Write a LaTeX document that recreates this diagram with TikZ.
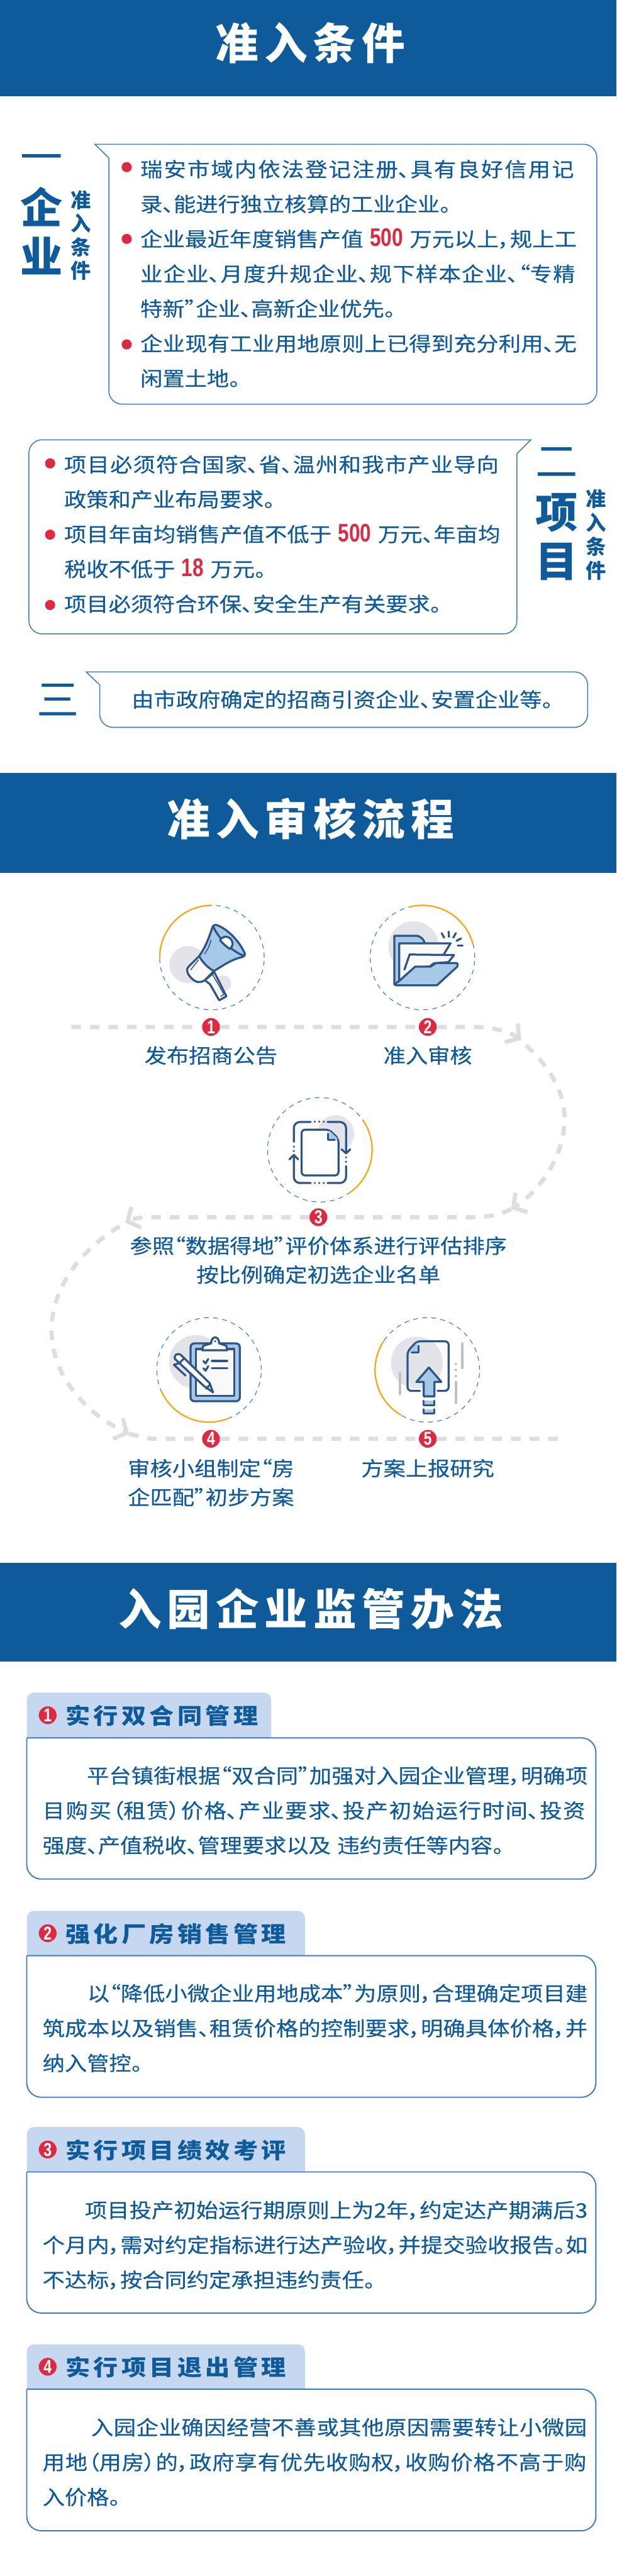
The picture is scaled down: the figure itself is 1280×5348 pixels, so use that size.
\documentclass[tikz,border=0pt]{standalone}
\usepackage{fontspec}
\usetikzlibrary{arrows.meta}
\setmainfont[FakeStretch=1.11,FakeBold=0.4,RawFeature={+palt}]{Noto Sans CJK SC}
\newfontfamily\titlefont[LetterSpace=13,RawFeature={+palt}]{Noto Sans CJK SC}
\newfontfamily\bigfont[RawFeature={+palt}]{Noto Sans CJK SC}
\newfontfamily\tabfont[FakeStretch=1.12,LetterSpace=15,RawFeature={+palt}]{Noto Sans CJK SC}
\newfontfamily\numfont[FakeStretch=0.78]{Liberation Sans}
\XeTeXlinebreaklocale "zh"
\XeTeXlinebreakskip=0pt plus 20pt minus 3pt
\tolerance=10000
\definecolor{headblue}{HTML}{0F5A9B}
\definecolor{boxblue}{HTML}{3A7CC2}
\definecolor{tabblue}{HTML}{C5D8F0}
\definecolor{markred}{HTML}{DC2A42}
\definecolor{ringorange}{HTML}{F7A91E}
\definecolor{flowgrey}{HTML}{DEDEDE}
\definecolor{iconline}{HTML}{2F5587}
\definecolor{iconfill}{HTML}{A5C9E6}
\definecolor{iconblob}{HTML}{E3E4E9}
\definecolor{iconpaper}{HTML}{F9F9FA}
\definecolor{icongrey}{HTML}{C0C0C0}
\newcommand{\bodysize}{\fontsize{23.6}{41.2}\selectfont}
\newcommand{\rednum}[1]{{\numfont\bfseries\fontsize{30}{41.2}\selectfont\color{markred}#1}}
\newcommand{\jline}[1]{\parfillskip=0pt #1\par}
\newcommand{\lastline}[1]{\parfillskip=0pt plus 1fil #1\par}
\newcommand{\ringarc}[3]{\draw[ringarcline] (#1.#2) arc[start angle=#2,end angle=#3,radius=2.17cm];}
\newcommand{\tabblock}[5]{%
  \fill[tabblue,rounded corners=3mm] (55.5,#3) -- (55.5,#2) -- (#1,#2) -- (#1,#3);
  \draw[blockline,rounded corners=6mm] (55.5,#3) -- (1237,#3) -- (1237,#4) -- (55.5,#4) -- (55.5,#3);
  \node[badge] (#5) at (99,{(#2+#3)/2}) {#5};
}
\tikzset{
  bodytext/.style={anchor=base west,inner sep=0pt,text=headblue,font=\bodysize},
  linelabel/.style={anchor=base,inner sep=0pt,text=headblue,font=\bodysize},
  title/.style={anchor=base,inner sep=0pt,text=white,font=\titlefont\bfseries\fontsize{51}{60}\selectfont},
  biglabel/.style={anchor=base,inner sep=0pt,text=headblue,font=\bigfont\bfseries\fontsize{50}{60}\selectfont},
  numlabel/.style={anchor=base,inner sep=0pt,text=headblue,font=\bigfont\fontsize{50}{60}\selectfont},
  sidelabel/.style={anchor=base,inner sep=0pt,text=headblue,font=\bigfont\bfseries\fontsize{24}{30}\selectfont},
  tabtext/.style={anchor=base west,inner sep=0pt,text=headblue,font=\tabfont\bfseries\fontsize{26}{30}\selectfont},
  bulletdot/.style={circle,fill=markred,minimum size=4.2mm,inner sep=0pt},
  badge/.style={circle,fill=markred,text=white,minimum size=7.4mm,inner sep=0pt,font=\numfont\bfseries\fontsize{22}{24}\selectfont},
  ring/.style={circle,draw=boxblue,line width=0.3mm,dash pattern=on 2mm off 1.8mm,minimum size=4.34cm,inner sep=0pt,outer sep=0pt},
  ringarcline/.style={ringorange,line width=0.6mm},
  boxline/.style={boxblue,line width=0.4mm},
  blockline/.style={boxblue,line width=0.5mm},
  flow/.style={flowgrey,line width=1.75mm,dash pattern=on 4mm off 3.7mm},
  flowarrow/.style={flow,-{Straight Barb[length=4mm,width=9.5mm,line width=1.7mm]}},
  iconscope/.style={x=0.006667cm,y=-0.006667cm,line join=round,line cap=round},
  icon/.style={iconline,line width=0.85mm},
  iconthin/.style={iconline,line width=0.4mm}
}
\begin{document}
\begin{tikzpicture}[x=0.02cm,y=-0.02cm]
  \useasboundingbox (0,0) rectangle (1280,5348);
  \fill[headblue] (0,0) rectangle (1280,200);
  \fill[headblue] (0,1605) rectangle (1280,1812);
  \fill[headblue] (0,3244) rectangle (1280,3450);
  \node[title] (title1) at (644,124) {准入条件};
  \node[title] (title2) at (645,1735) {准入审核流程};
  \node[title] (title3) at (645,3374) {入园企业监管办法};

  \draw[boxline] (197,299.5) -- (226,328) [rounded corners=5.5mm] -- (226,839) -- (1239,839) -- (1239,299.5) [sharp corners] -- cycle;
  \node[numlabel] (one) at (87,358) {一};
  \node[biglabel] (qi) at (87,464) {企};
  \node[biglabel] (ye) at (87,566) {业};
  \foreach \ch [count=\i] in {准,入,条,件}
    \node[sidelabel] (sidea\i) at (168,{382+49*\i}) {\ch};
  \node[bulletdot] (dota1) at (263,347) {};
  \node[bulletdot] (dota2) at (263,496) {};
  \node[bulletdot] (dota3) at (263,715) {};
  \node[bodytext,text width=18.14cm] (texta) at (291,367) {%
    \jline{瑞安市域内依法登记注册、具有良好信用记}
    \lastline{录、能进行独立核算的工业企业。}
    \jline{企业最近年度销售产值 \rednum{500} 万元以上，规上工}
    \jline{业企业、月度升规企业、规下样本企业、“专精}
    \lastline{特新”企业、高新企业优先。}
    \jline{企业现有工业用地原则上已得到充分利用、无}
    \lastline{闲置土地。}};

  \draw[boxline] (1102,913) -- (1073,942) [rounded corners=5.5mm] -- (1073,1316) -- (60,1316) -- (60,913) [sharp corners] -- cycle;
  \node[numlabel] (two) at (1156,990) {二};
  \node[biglabel] (xiang) at (1156,1096) {项};
  \node[biglabel] (mu) at (1156,1198) {目};
  \foreach \ch [count=\i] in {准,入,条,件}
    \node[sidelabel] (sideb\i) at (1237,{1002+49.5*\i}) {\ch};
  \node[bulletdot] (dotb1) at (104,962) {};
  \node[bulletdot] (dotb2) at (104,1110) {};
  \node[bulletdot] (dotb3) at (104,1256) {};
  \node[bodytext,text width=18.12cm] (textb) at (133,980) {%
    \jline{项目必须符合国家、省、温州和我市产业导向}
    \lastline{政策和产业布局要求。}
    \jline{项目年亩均销售产值不低于 \rednum{500} 万元、年亩均}
    \lastline{税收不低于 \rednum{18} 万元。}
    \lastline{项目必须符合环保、安全生产有关要求。}};

  \draw[boxline] (179,1395) -- (207,1422) [rounded corners=5.5mm] -- (207,1510) -- (1220,1510) -- (1220,1395) [sharp corners] -- cycle;
  \node[numlabel] (three) at (120,1485) {三};
  \node[bodytext,text width=18cm] (textc) at (273,1468) {\lastline{由市政府确定的招商引资企业、安置企业等。}};

  \node[ring] (c1) at (440,1988) {};
  \node[ring] (c2) at (877,1988) {};
  \node[ring] (c3) at (664,2387) {};
  \node[ring] (c4) at (434,2844) {};
  \node[ring] (c5) at (887,2844) {};
  \ringarc{c1}{90}{180}
  \ringarc{c2}{105}{15}
  \ringarc{c3}{35}{-56}
  \ringarc{c4}{203}{292}
  \ringarc{c5}{146}{240}

  \node[badge] (n1) at (438,2132) {1};
  \node[badge] (n2) at (888,2132) {2};
  \node[badge] (n3) at (661,2527) {3};
  \node[badge] (n4) at (438,2987) {4};
  \node[badge] (n5) at (888,2987) {5};
  \coordinate (flowa) at (148,2132);
  \coordinate (benda) at (980,2132);
  \coordinate (tipa) at (1082,2159);
  \coordinate (tailb) at (1092,2170);
  \coordinate (tipb) at (1061,2510);
  \coordinate (bendc) at (980,2527);
  \coordinate (bendd) at (306,2527);
  \coordinate (tipc) at (260,2538);
  \coordinate (taild) at (248,2546);
  \coordinate (tipd) at (268,2977);
  \coordinate (bende) at (314,2987);
  \coordinate (flowe) at (1163,2987);
  \draw[flowarrow] (flowa) -- (n1) -- (n2) -- (benda) .. controls (1020,2132) and (1055,2140) .. (tipa);
  \draw[flowarrow] (tailb) .. controls (1140,2215) and (1172,2265) .. (1172,2323) .. controls (1172,2395) and (1125,2470) .. (tipb);
  \draw[flowarrow] (tipb) .. controls (1040,2522) and (1010,2527) .. (bendc) -- (n3) -- (bendd) .. controls (290,2527) and (275,2531) .. (tipc);
  \draw[flowarrow] (taild) .. controls (160,2600) and (107,2680) .. (107,2762) .. controls (107,2850) and (170,2930) .. (tipd);
  \draw[flow] (tipd) .. controls (290,2982) .. (bende) -- (n4) -- (n5) -- (flowe);

  \node[linelabel] (la) at (438,2207) {发布招商公告};
  \node[linelabel] (lb) at (888,2207) {准入审核};
  \node[linelabel] (lc) at (661,2602) {参照“数据得地”评价体系进行评估排序};
  \node[linelabel] (ld) at (661,2662) {按比例确定初选企业名单};
  \node[linelabel] (le) at (438,3064) {审核小组制定“房};
  \node[linelabel] (lf) at (438,3124) {企匹配”初步方案};
  \node[linelabel] (lg) at (888,3064) {方案上报研究};

  \begin{scope}[shift={(330,1880)},iconscope]
    \fill[iconblob] (180,367) circle (115);
    \fill[iconblob] (400,485) circle (50);
    \draw[icon,fill=iconpaper] (285,465) -- (318,490) -- (375,590) -- (420,565) -- (345,415) -- cycle;
    \draw[iconthin] (335,432) -- (405,553) -- (385,565);
    \draw[icon,fill=iconpaper] (250,315) -- (183,382) .. controls (165,405) and (180,430) .. (205,455) .. controls (235,485) and (265,480) .. (285,465) -- (342,408) -- cycle;
    \draw[icon,fill=iconfill] (250,315) .. controls (290,260) and (315,190) .. (333,135) .. controls (340,115) and (360,118) .. (380,130) .. controls (450,165) and (510,240) .. (535,300) .. controls (535,315) and (525,320) .. (515,322) .. controls (450,335) and (390,380) .. (342,408) .. controls (310,390) and (275,360) .. (250,315) -- cycle;
    \draw[icon] (340,135) .. controls (365,190) and (430,270) .. (525,312);
    \draw[icon,fill=white] (380,215) .. controls (400,185) and (445,185) .. (458,230) .. controls (462,250) and (450,262) .. (440,270) .. controls (420,255) and (395,235) .. (380,215) -- cycle;
    \draw[iconthin] (325,215) .. controls (315,250) and (300,280) .. (285,300);
    \draw[iconthin] (245,340) -- (198,400);
  \end{scope}

  \begin{scope}[shift={(767,1880)},iconscope]
    \fill[iconblob] (275,255) circle (157);
    \draw[icon,fill=iconfill] (155,188) -- (290,188) .. controls (320,188) and (340,215) .. (345,235) -- (345,400) -- (185,480) -- (155,490) -- cycle;
    \draw[icon,fill=iconpaper] (185,235) -- (505,235) -- (465,300) -- (465,360) -- (285,385) -- (185,470) -- cycle;
    \draw[icon,fill=iconpaper] (218,398) -- (250,305) -- (527,308) -- (492,352) -- (400,360) -- (375,380) -- (285,385) -- (218,440);
    \draw[icon,fill=iconfill] (185,470) -- (285,380) -- (380,380) -- (415,358) -- (540,358) .. controls (552,358) and (552,375) .. (545,382) -- (420,497) -- (165,497) -- (155,490) -- cycle;
    \draw[icon] (450,172) -- (465,200);
    \draw[icon] (493,162) -- (495,195);
    \draw[icon] (538,172) -- (522,200);
    \draw[icon] (570,205) -- (542,220);
    \draw[icon] (580,248) -- (550,248);
  \end{scope}

  \begin{scope}[shift={(555,2277)},iconscope]
    \fill[iconblob] (425,230) circle (115);
    \draw[icon,fill=white,rounded corners=1.5mm] (213,205) -- (385,205) -- (443,262) -- (443,490) -- (213,490) -- cycle;
    \fill[iconfill] (385,210) -- (440,262) -- (378,268) -- cycle;
    \draw[icon] (378,230) -- (378,268) -- (420,268);
    \draw[icon,rounded corners=2.5mm] (270,157) -- (165,157) -- (165,280);
    \draw[icon,rounded corners=2.5mm] (270,537) -- (165,537) -- (165,365);
    \draw[icon] (138,390) -- (165,362) -- (192,390);
    \draw[icon,rounded corners=2.5mm] (375,537) -- (490,537) -- (490,432);
    \draw[icon,rounded corners=2.5mm] (375,157) -- (490,157) -- (490,350);
    \draw[icon] (462,327) -- (490,352) -- (517,327);
    \foreach \px in {295,323,351} {
      \fill[iconline] (\px,155) circle (7);
      \fill[iconline] (\px,537) circle (7);
    }
    \foreach \py in {310,338} \fill[iconline] (165,\py) circle (7);
    \foreach \py in {378,405} \fill[iconline] (490,\py) circle (7);
  \end{scope}

  \begin{scope}[shift={(325,2734)},iconscope]
    \fill[iconblob] (245,280) circle (167);
    \draw[icon,fill=iconfill,rounded corners=1.5mm] (212,165) rectangle (518,525);
    \draw[icon,fill=iconpaper] (245,200) rectangle (483,492);
    \draw[icon,fill=iconpaper] (285,208) -- (290,180) -- (340,165) .. controls (340,115) and (390,115) .. (390,165) -- (435,180) -- (440,208) -- cycle;
    \fill[iconline] (365,152) circle (7);
    \draw[icon] (292,275) -- (305,290) -- (322,262);
    \draw[icon] (292,320) -- (305,335) -- (322,307);
    \draw[icon] (345,274) -- (440,274);
    \draw[icon] (345,318) -- (440,318);
    \draw[white,line width=1.6mm] (150,260) -- (320,430);
    \draw[icon,fill=white] (115,262) .. controls (105,235) and (135,220) .. (155,240) -- (330,412) -- (352,470) -- (295,430) -- cycle;
    \draw[icon] (145,285) -- (170,260);
    \draw[icon] (308,447) -- (335,420);
    \draw[icon] (135,290) -- (108,298) -- (180,365);
  \end{scope}

  \begin{scope}[shift={(777,2734)},iconscope]
    \fill[iconblob] (265,285) circle (162);
    \draw[icon,rounded corners=1.5mm] (285,460) -- (207,460) -- (207,215) -- (265,152) -- (463,152) -- (463,460) -- (395,460);
    \fill[iconfill] (265,160) -- (277,222) -- (220,215) -- cycle;
    \draw[icon] (277,180) -- (277,222) -- (232,222);
    \draw[icon,fill=iconfill] (340,315) -- (262,405) -- (308,405) -- (308,495) -- (375,495) -- (375,405) -- (418,405) -- cycle;
    \draw[icon,fill=iconfill] (308,522) -- (308,550) -- (375,550) -- (375,522);
    \draw[icon,fill=iconfill] (308,575) -- (308,600) -- (375,600) -- (375,575);
    \draw[icongrey,line width=1mm] (547,165) -- (547,318);
    \draw[icongrey,line width=1mm] (508,405) -- (508,535);
    \draw[icongrey,line width=1mm] (160,350) -- (160,480);
    \foreach \py in {292,330,368} \fill[icongrey] (508,\py) circle (8);
  \end{scope}

  \tabblock{563}{3514}{3608}{3901}{1}
  \node[tabtext] (taba) at (136,3579) {实行双合同管理};
  \node[bodytext,text width=22.64cm] (blocka) at (88,3702) {%
    \jline{\hspace*{18.4mm}平台镇街根据“双合同”加强对入园企业管理，明确项}
    \jline{目购买（租赁）价格、产业要求、投产初始运行时间、投资}
    \lastline{强度、产值税收、管理要求以及 违约责任等内容。}};

  \tabblock{633}{3967}{4060}{4354}{2}
  \node[tabtext] (tabb) at (136,4032) {强化厂房销售管理};
  \node[bodytext,text width=22.64cm] (blockb) at (88,4154) {%
    \jline{\hspace*{18.6mm}以“降低小微企业用地成本”为原则，合理确定项目建}
    \jline{筑成本以及销售、租赁价格的控制要求，明确具体价格，并}
    \lastline{纳入管控。}};

  \tabblock{633}{4416}{4509}{4802}{3}
  \node[tabtext] (tabc) at (136,4481) {实行项目绩效考评};
  \node[bodytext,text width=22.64cm] (blockc) at (88,4604) {%
    \jline{\hspace*{17.6mm}项目投产初始运行期原则上为2年，约定达产期满后3}
    \jline{个月内，需对约定指标进行达产验收，并提交验收报告。如}
    \lastline{不达标，按合同约定承担违约责任。}};

  \tabblock{633}{4867}{4960}{5254}{4}
  \node[tabtext] (tabd) at (136,4932) {实行项目退出管理};
  \node[bodytext,text width=22.64cm] (blockd) at (88,5055) {%
    \jline{\hspace*{20.2mm}入园企业确因经营不善或其他原因需要转让小微园}
    \jline{用地（用房）的，政府享有优先收购权，收购价格不高于购}
    \lastline{入价格。}};
\end{tikzpicture}
\end{document}
